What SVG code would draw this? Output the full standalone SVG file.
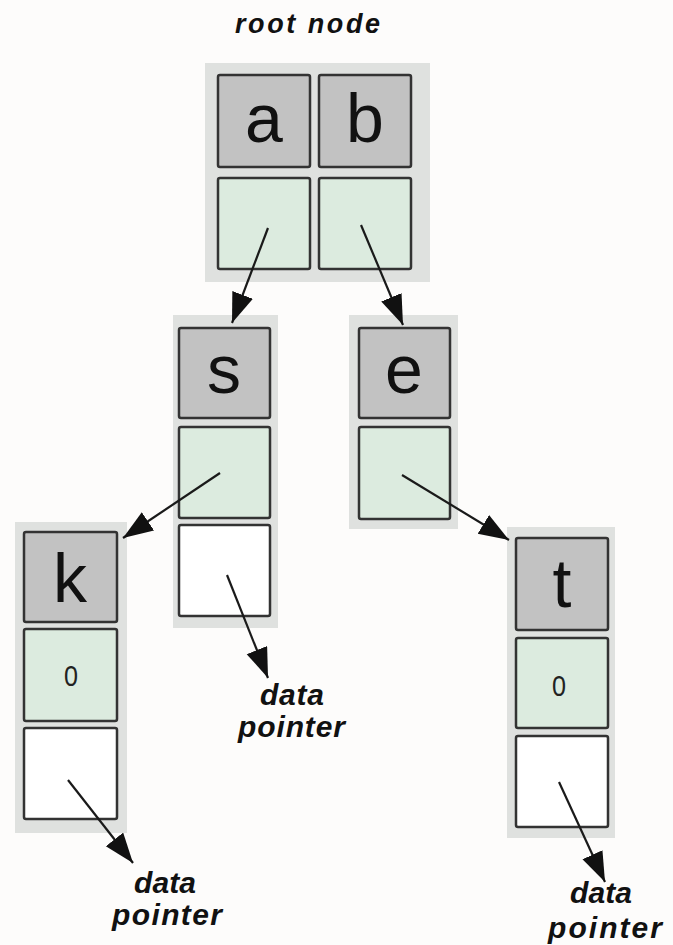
<svg xmlns="http://www.w3.org/2000/svg" width="673" height="945" viewBox="0 0 673 945">
<style>
.bg{fill:#dfe1df}
.cell{stroke:#333;stroke-width:2.5}
.key{fill:#c2c2c2}
.ptr{fill:#dcebdf}
.dat{fill:#ffffff}
.ch{font-family:"Liberation Sans",Arial,sans-serif;font-size:68px;fill:#111;text-anchor:middle}
.num{font-family:"Liberation Sans",Arial,sans-serif;font-size:30px;fill:#222}
.lbl{font-family:"Liberation Sans",Arial,sans-serif;font-size:30px;font-weight:bold;font-style:italic;fill:#111}
.rl{font-size:27px}
.conn line{stroke:#1a1a1a;stroke-width:2.2;marker-end:url(#ah)}
</style>
<defs>
<marker id="ah" markerUnits="userSpaceOnUse" markerWidth="32" markerHeight="24" refX="30" refY="11" orient="auto">
<path d="M0,0 L30,11 L0,22 z" fill="#111"/>
</marker>
</defs>
<rect width="673" height="945" fill="#fdfcfb"/>
<text class="lbl rl" x="235" y="33" textLength="145" lengthAdjust="spacing">root node</text>

<g id="root">
<rect class="bg" x="205" y="63" width="225" height="219"/>
<rect class="cell key" x="218" y="75" width="92" height="92" rx="2"/>
<rect class="cell key" x="319" y="75" width="92" height="92" rx="2"/>
<rect class="cell ptr" x="218" y="178" width="92" height="91" rx="2"/>
<rect class="cell ptr" x="319" y="178" width="92" height="91" rx="2"/>
<text class="ch" x="264" y="142">a</text>
<text class="ch" x="365" y="142">b</text>
</g>

<g id="node-s">
<rect class="bg" x="173" y="315" width="105" height="313"/>
<rect class="cell key" x="179" y="328" width="91" height="90" rx="2"/>
<rect class="cell ptr" x="179" y="427" width="91" height="91" rx="2"/>
<rect class="cell dat" x="179" y="525" width="91" height="91" rx="2"/>
<text class="ch" x="224" y="393">s</text>
</g>

<g id="node-e">
<rect class="bg" x="349" y="315" width="109" height="214"/>
<rect class="cell key" x="359" y="328" width="91" height="90" rx="2"/>
<rect class="cell ptr" x="359" y="427" width="91" height="92" rx="2"/>
<text class="ch" x="404" y="393">e</text>
</g>

<g id="node-k">
<rect class="bg" x="15" y="522" width="112" height="311"/>
<rect class="cell key" x="24" y="532" width="93" height="90" rx="2"/>
<rect class="cell ptr" x="24" y="629" width="93" height="92" rx="2"/>
<rect class="cell dat" x="24" y="728" width="93" height="91" rx="2"/>
<text class="ch" x="70" y="602">k</text>
<text class="num" x="64" y="686" textLength="14" lengthAdjust="spacingAndGlyphs">0</text>
</g>

<g id="node-t">
<rect class="bg" x="507" y="527" width="108" height="311"/>
<rect class="cell key" x="516" y="538" width="92" height="92" rx="2"/>
<rect class="cell ptr" x="516" y="638" width="92" height="90" rx="2"/>
<rect class="cell dat" x="516" y="736" width="92" height="91" rx="2"/>
<text class="ch" x="562" y="607">t</text>
<text class="num" x="552" y="696" textLength="14" lengthAdjust="spacingAndGlyphs">0</text>
</g>

<g id="connectors" class="conn">
<line x1="268" y1="228" x2="232" y2="323"/>
<line x1="361" y1="225" x2="403" y2="325"/>
<line x1="220" y1="473" x2="123" y2="538"/>
<line x1="402" y1="475" x2="509" y2="540"/>
<line x1="227" y1="575" x2="268" y2="678"/>
<line x1="68" y1="780" x2="133" y2="863"/>
<line x1="559" y1="782" x2="605" y2="882"/>
</g>

<g id="labels">
<text class="lbl" x="260" y="705" textLength="64" lengthAdjust="spacing">data</text>
<text class="lbl" x="238" y="737" textLength="107" lengthAdjust="spacing">pointer</text>
<text class="lbl" x="134" y="893" textLength="62" lengthAdjust="spacing">data</text>
<text class="lbl" x="112" y="925" textLength="110" lengthAdjust="spacing">pointer</text>
<text class="lbl" x="570" y="903" textLength="62" lengthAdjust="spacing">data</text>
<text class="lbl" x="548" y="938" textLength="114" lengthAdjust="spacing">pointer</text>
</g>
</svg>
